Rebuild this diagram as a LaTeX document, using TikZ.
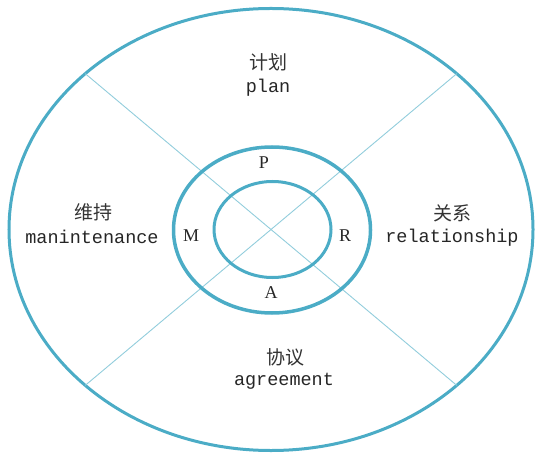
\documentclass[tikz,border=0pt]{standalone}
\usepackage{fontspec}
\setmainfont{Liberation Serif}
\setmonofont{Liberation Mono}
\newfontfamily\cjk{Noto Sans CJK SC}
\usetikzlibrary{shapes.geometric}
\definecolor{ringblue}{RGB}{75,172,198}
\definecolor{thinblue}{RGB}{146,205,220}
\tikzset{
  ring/.style={ellipse, draw=ringblue, line width=3bp, inner sep=0pt, outer sep=0pt},
  cross/.style={draw=thinblue, line width=0.9bp},
  zh/.style={font=\cjk\fontsize{19bp}{19bp}\selectfont, text=black!80, inner sep=0pt},
  en/.style={font=\ttfamily\fontsize{18.5bp}{18.5bp}\selectfont, text=black!85, inner sep=0pt},
  letter/.style={font=\fontsize{18bp}{18bp}\selectfont, text=black!85, inner sep=0pt}
}
\begin{document}
\begin{tikzpicture}[x=1bp,y=-1bp]
\useasboundingbox (0,0) rectangle (536,454);
\node[ring, minimum width=524bp, minimum height=442bp] (outer) at (271,229.5) {};
\draw[cross] (outer.140) -- (outer.-40);
\draw[cross] (outer.40) -- (outer.220);
\node[ring, line width=3.5bp, minimum width=197bp, minimum height=166bp] (middle) at (272,230) {};
\node[ring, minimum width=117bp, minimum height=96bp] (inner) at (272.5,229.5) {};
\node[zh] (jh) at (268,62) {计划};
\node[en] (plan) at (268,88) {plan};
\node[zh] (wc) at (93,212) {维持};
\node[en] (mt) at (92,237) {manintenance};
\node[zh] (gx) at (452,213) {关系};
\node[en] (rel) at (452,238) {relationship};
\node[zh] (xy) at (285,357) {协议};
\node[en] (agr) at (284,381) {agreement};
\node[letter] (P) at (264,163) {P};
\node[letter] (M) at (191,236) {M};
\node[letter] (R) at (345,236) {R};
\node[letter] (A) at (271,293) {A};
\end{tikzpicture}
\end{document}
